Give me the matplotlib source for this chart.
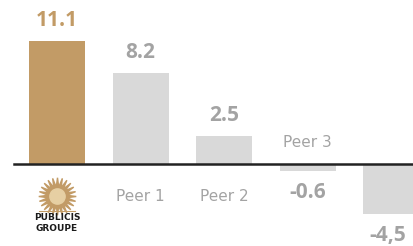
import matplotlib.pyplot as plt
import numpy as np

# data
names = ['Publicis Groupe', 'Peer 1', 'Peer 2', 'Peer 3', 'Peer 4']
values = [11.1, 8.2, 2.5, -0.6, -4.5]
value_labels = ['11.1', '8.2', '2.5', '-0.6', '-4,5']
cat_labels = ['', 'Peer 1', 'Peer 2', 'Peer 3', '']

gold = '#C29B66'
grey_bar = '#D9D9D9'
grey_txt = '#A3A3A3'

plt.rcParams['font.family'] = ['Open Sans', 'DejaVu Sans']

fig = plt.figure(figsize=(4.13, 2.46), dpi=100)
ax = fig.add_axes([0, 0, 1, 1])
x = np.arange(len(values))
colors = [gold] + [grey_bar] * (len(values) - 1)
ax.bar(x, values, width=0.67, color=colors)

ax.set_xlim(-0.683, 4.263)
ax.set_ylim(-7.40, 14.80)
ax.axhline(0, xmin=14 / 413, xmax=1, color='#222222', linewidth=1.8)

for i, v in enumerate(values):
    if v >= 0:
        ax.annotate(value_labels[i], (x[i], v), xytext=(0, 10), textcoords='offset pixels',
                    ha='center', va='bottom', fontsize=15, fontweight='bold',
                    color=gold if i == 0 else grey_txt)
    else:
        # baseline-anchored so the last label stays inside the picture
        ax.annotate(value_labels[i], (x[i], v), xytext=(-3 if i == 4 else 0, -27),
                    textcoords='offset pixels', ha='center', va='baseline',
                    fontsize=15, fontweight='bold', color=grey_txt)

for i, lab in enumerate(cat_labels):
    if not lab:
        continue
    if values[i] >= 0:
        ax.annotate(lab, (x[i], 0), xytext=(0, -25), textcoords='offset pixels',
                    ha='center', va='top', fontsize=11, color=grey_txt,
                    family=['DejaVu Sans'])
    else:
        ax.annotate(lab, (x[i], 0), xytext=(0, 14), textcoords='offset pixels',
                    ha='center', va='bottom', fontsize=11, color=grey_txt,
                    family=['DejaVu Sans'])

# rough stand-in for the Publicis lion logo
ax.plot([x[0]], [-2.9], marker=(24, 1, 0), markersize=27, color=gold, linestyle='none')
ax.plot([x[0]], [-2.9], marker='o', markersize=11, color='#E6CFA3', linestyle='none')
ax.plot([x[0] - 0.22, x[0] + 0.22], [-4.25, -4.25], color=gold, linewidth=0.8)
ax.text(x[0], -4.45, 'PUBLICIS\nGROUPE', ha='center', va='top', fontsize=6.5,
        fontweight='bold', color='#1A1A1A', linespacing=1.25, family=['DejaVu Sans'])

ax.axis('off')
fig.savefig('out.png', dpi=100)
